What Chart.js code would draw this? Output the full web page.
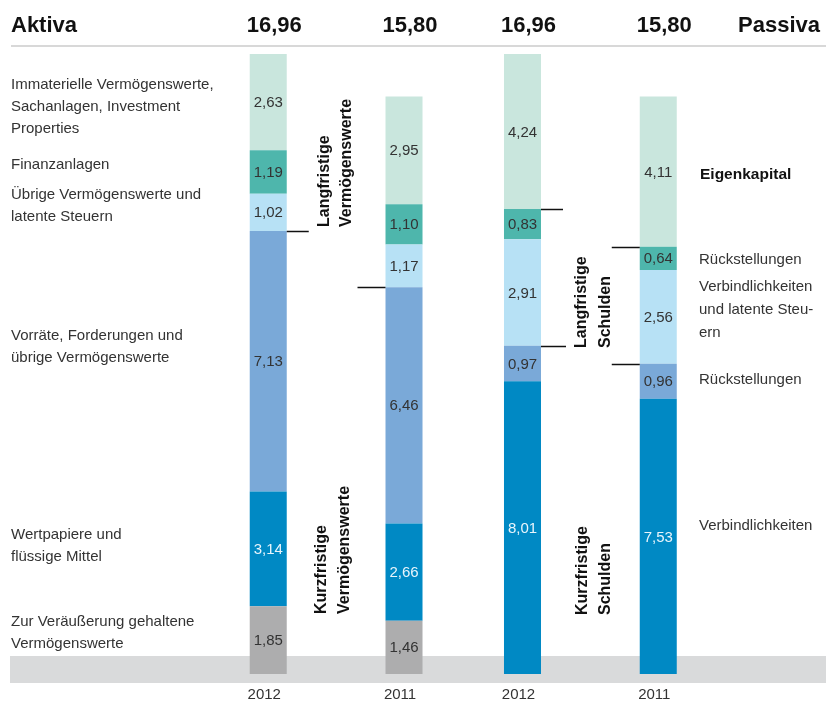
<!DOCTYPE html>
<html lang="de">
<head>
<meta charset="utf-8">
<title>Bilanzstruktur Aktiva / Passiva</title>
<script src="https://cdn.jsdelivr.net/npm/chart.js@4/dist/chart.umd.min.js"></script>
<style>
  html, body { margin: 0; padding: 0; background: #fff; overflow: hidden; }
  #wrap { position: relative; width: 826px; height: 703px; }
</style>
</head>
<body>
<div id="wrap"><canvas id="chart"></canvas></div>
<script>
// Bilanz Aktiva/Passiva 2012 vs 2011 (Mrd. €). Values bottom -> top of each bar.
const sides = ['Aktiva', 'Passiva'];
const years = ['2012', '2011'];

const aktiva2012 = [1.85, 3.14, 7.13, 1.02, 1.19, 2.63];
const aktiva2011 = [1.46, 2.66, 6.46, 1.17, 1.10, 2.95];
const passiva2012 = [8.01, 0.97, 2.91, 0.83, 4.24];
const passiva2011 = [7.53, 0.96, 2.56, 0.64, 4.11];

const C = { pale: '#c9e6dd', teal: '#4eb6ac', light: '#b7e1f5', mid: '#7aa9d8', blue: '#0089c4', gray: '#adadae' };
const AKTIVA_COLORS = [C.gray, C.blue, C.mid, C.light, C.teal, C.pale];
const PASSIVA_COLORS = [C.blue, C.mid, C.light, C.teal, C.pale];

const FONT = "'Liberation Sans', Arial, sans-serif";
const TEXT = '#333';

// left / right captions (text + vertical centre of each line)
const leftNotes = [
  [['Immaterielle Vermögenswerte,', 'Sachanlagen, Investment', 'Properties'], 85],
  [['Finanzanlagen'], 165],
  [['Übrige Vermögenswerte und', 'latente Steuern'], 195],
  [['Vorräte, Forderungen und', 'übrige Vermögenswerte'], 336],
  [['Wertpapiere und', 'flüssige Mittel'], 535],
  [['Zur Veräußerung gehaltene', 'Vermögenswerte'], 622]
];
const rightNotes = [
  [['Rückstellungen'], 260],
  [['Verbindlichkeiten', 'und latente Steu-', 'ern'], 287],
  [['Rückstellungen'], 380],
  [['Verbindlichkeiten'], 526]
];
// rotated group labels: lines, x of each line, bottom end y
const groupNotes = [
  [['Langfristige', 'Vermögenswerte'], [325, 347], 227],
  [['Kurzfristige', 'Vermögenswerte'], [322, 345], 614],
  [['Langfristige', 'Schulden'], [582, 606], 348],
  [['Kurzfristige', 'Schulden'], [583, 606], 615]
];

const AKTIVA = { '2012': aktiva2012, '2011': aktiva2011 };
const PASSIVA = { '2012': passiva2012, '2011': passiva2011 };
const fmt = v => v.toFixed(2).replace('.', ',');
const sum = a => a.reduce((s, v) => s + v, 0);

const datasets = [];
years.forEach(yr => {
  for (let i = 0; i < AKTIVA_COLORS.length; i++) {
    datasets.push({
      label: yr + ' #' + i,
      stack: yr,
      level: i,
      data: [AKTIVA[yr][i] ?? null, PASSIVA[yr][i] ?? null],
      backgroundColor: [AKTIVA_COLORS[i], PASSIVA_COLORS[i] || 'transparent'],
      borderWidth: 0
    });
  }
});

// bar element for side (0/1), year index (0/1), level
function barEl(chart, side, yi, level) {
  const di = yi * AKTIVA_COLORS.length + level;
  return chart.getDatasetMeta(di).data[side];
}

function text(ctx, str, x, y, font, color, align, base) {
  ctx.font = font; ctx.fillStyle = color;
  ctx.textAlign = align || 'left'; ctx.textBaseline = base || 'middle';
  ctx.fillText(str, x, y);
}

const decor = {
  id: 'decor',
  beforeDatasetsDraw(chart) {
    const ctx = chart.ctx;
    const y0 = chart.scales.y.getPixelForValue(0);
    ctx.save();
    ctx.fillStyle = '#d9dadb';
    ctx.fillRect(10, y0 - 18, chart.width - 10, 27);
    ctx.fillStyle = '#d8d8d8';
    ctx.fillRect(11, 45, chart.width - 11, 2);
    ctx.restore();
  },
  afterDatasetsDraw(chart) {
    const ctx = chart.ctx;
    ctx.save();

    // segment values
    chart.data.datasets.forEach((ds, di) => {
      chart.getDatasetMeta(di).data.forEach((el, idx) => {
        const v = ds.data[idx];
        if (v == null) return;
        const p = el.getProps(['x', 'y', 'base'], true);
        const light = ds.backgroundColor[idx] === C.blue;
        text(ctx, fmt(v), p.x, (p.y + p.base) / 2 + 1, '15px ' + FONT, light ? '#e8f5fc' : TEXT, 'center');
      });
    });

    // header, totals, years
    text(ctx, 'Aktiva', 11, 32, 'bold 22px ' + FONT, '#111', 'left', 'alphabetic');
    text(ctx, 'Passiva', 820, 32, 'bold 22px ' + FONT, '#111', 'right', 'alphabetic');
    const totals = [[aktiva2012, aktiva2011], [passiva2012, passiva2011]];
    sides.forEach((s, si) => years.forEach((yr, yi) => {
      const el = barEl(chart, si, yi, 0);
      text(ctx, fmt(sum(totals[si][yi])), el.x + 6, 32, 'bold 22px ' + FONT, '#111', 'center', 'alphabetic');
      text(ctx, yr, el.x - 4, 695, '15px ' + FONT, TEXT, 'center');
    }));

    // boundary ticks
    ctx.strokeStyle = '#111'; ctx.lineWidth = 1.5;
    const tick = (el, right, len) => {
      const y = Math.round(el.y) + 0.5;
      const half = el.width / 2;
      ctx.beginPath();
      if (right) { ctx.moveTo(el.x + half, y); ctx.lineTo(el.x + half + len, y); }
      else { ctx.moveTo(el.x - half - len, y); ctx.lineTo(el.x - half, y); }
      ctx.stroke();
    };
    tick(barEl(chart, 0, 0, 2), true, 22);
    tick(barEl(chart, 0, 1, 2), false, 28);
    tick(barEl(chart, 1, 0, 1), true, 25);
    tick(barEl(chart, 1, 0, 3), true, 22);
    tick(barEl(chart, 1, 1, 1), false, 28);
    tick(barEl(chart, 1, 1, 3), false, 28);

    // captions
    leftNotes.forEach(([lines, y]) => lines.forEach((l, i) => text(ctx, l, 11, y + i * 22, '15px ' + FONT, TEXT)));
    rightNotes.forEach(([lines, y]) => lines.forEach((l, i) => text(ctx, l, 699, y + i * 23, '15px ' + FONT, TEXT)));
    text(ctx, 'Eigenkapital', 700, 175, 'bold 15.5px ' + FONT, '#111');

    groupNotes.forEach(([lines, xs, bottom]) => lines.forEach((l, i) => {
      ctx.save();
      ctx.translate(xs[i], bottom);
      ctx.rotate(-Math.PI / 2);
      text(ctx, l, 0, 0, 'bold 16px ' + FONT, '#111', 'left', 'middle');
      ctx.restore();
    }));

    ctx.restore();
  }
};

new Chart(document.getElementById('chart'), {
  type: 'bar',
  data: { labels: sides, datasets },
  options: {
    responsive: true, maintainAspectRatio: false, animation: false,
    layout: { padding: { left: 209, right: 108.5, top: 54, bottom: 29 } },
    datasets: { bar: { categoryPercentage: 1.068, barPercentage: 0.2726 } },
    plugins: { legend: { display: false }, tooltip: { enabled: false } },
    scales: {
      x: { stacked: true, display: false },
      y: { stacked: true, display: false, min: 0, max: Math.max(sum(aktiva2012), sum(passiva2012)) }
    }
  },
  plugins: [decor]
});
</script>
</body>
</html>
